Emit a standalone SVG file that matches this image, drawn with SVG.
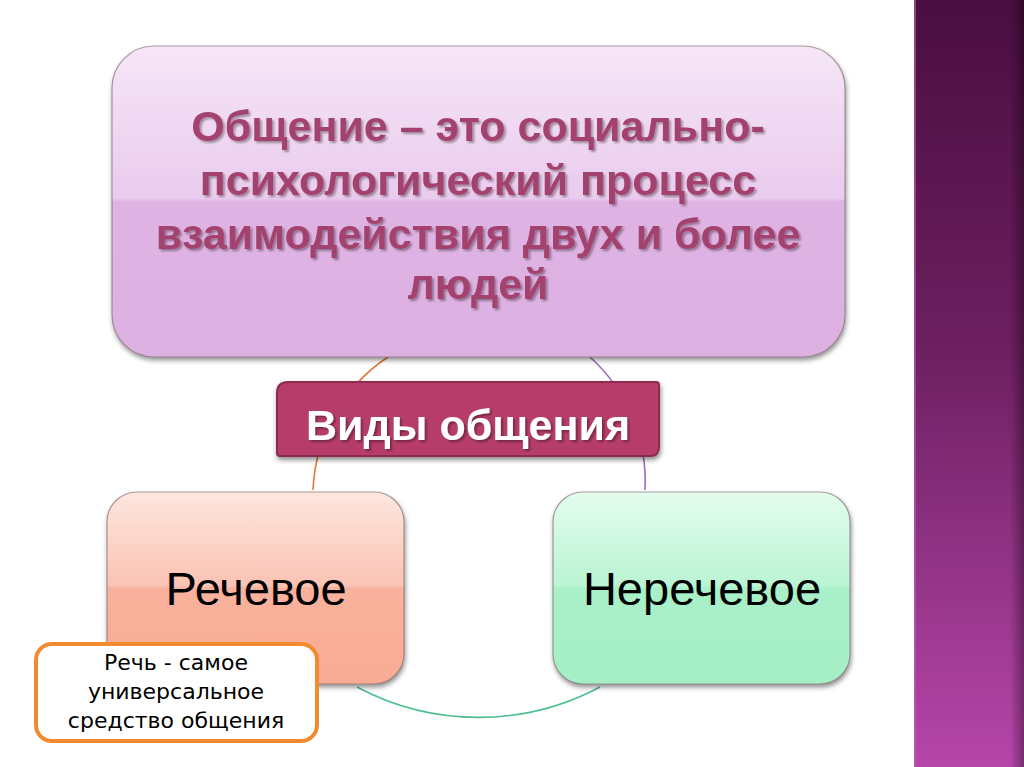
<svg xmlns="http://www.w3.org/2000/svg" width="1024" height="767" viewBox="0 0 1024 767">
<defs>
<linearGradient id="gSide" x1="0" y1="0" x2="0" y2="1">
<stop offset="0" stop-color="#4a0e40"/>
<stop offset="0.45" stop-color="#6c1f60"/>
<stop offset="1" stop-color="#b646a9"/>
</linearGradient>
<linearGradient id="gSideEdge" x1="0" y1="0" x2="1" y2="0">
<stop offset="0" stop-color="#000" stop-opacity="0"/>
<stop offset="1" stop-color="#000" stop-opacity="0.35"/>
</linearGradient>
<linearGradient id="gTop" x1="0" y1="0" x2="0" y2="1">
<stop offset="0" stop-color="#f6e6f7"/>
<stop offset="0.49" stop-color="#eacbee"/>
<stop offset="0.5" stop-color="#dfb3e3"/>
<stop offset="1" stop-color="#dcb0e1"/>
</linearGradient>
<linearGradient id="gLeft" x1="0" y1="0" x2="0" y2="1">
<stop offset="0" stop-color="#fde6df"/>
<stop offset="0.49" stop-color="#fbc3b3"/>
<stop offset="0.5" stop-color="#f9b29d"/>
<stop offset="1" stop-color="#f8ab94"/>
</linearGradient>
<linearGradient id="gRight" x1="0" y1="0" x2="0" y2="1">
<stop offset="0" stop-color="#e3fcee"/>
<stop offset="0.49" stop-color="#baf4d4"/>
<stop offset="0.5" stop-color="#a9f0c8"/>
<stop offset="1" stop-color="#a6efc6"/>
</linearGradient>
<filter id="shadow" x="-10%" y="-10%" width="120%" height="125%">
<feGaussianBlur in="SourceAlpha" stdDeviation="2.5"/>
<feOffset dx="1" dy="3" result="b"/>
<feComponentTransfer><feFuncA type="linear" slope="0.45"/></feComponentTransfer>
<feMerge><feMergeNode/><feMergeNode in="SourceGraphic"/></feMerge>
</filter>
<filter id="tshadow" x="-5%" y="-10%" width="110%" height="130%">
<feGaussianBlur in="SourceAlpha" stdDeviation="1"/>
<feOffset dx="1.5" dy="2"/>
<feComponentTransfer><feFuncA type="linear" slope="0.35"/></feComponentTransfer>
<feMerge><feMergeNode/><feMergeNode in="SourceGraphic"/></feMerge>
</filter>
</defs>
<style>
.box{stroke:#6b5a5a;stroke-opacity:0.55;stroke-width:1.2;filter:url(#shadow)}
.big{font-family:"Liberation Sans",Arial,sans-serif;font-weight:bold;font-size:43px;fill:#a3436e;text-anchor:middle;filter:url(#tshadow)}
.node{font-family:"Liberation Sans",Arial,sans-serif;font-size:47px;fill:#000;text-anchor:middle}
.small{font-family:"DejaVu Sans",Verdana,sans-serif;font-size:22px;fill:#000;text-anchor:middle}
.arc{fill:none;stroke-width:1.6}
</style>
<rect width="1024" height="767" fill="#ffffff"/>
<g id="side-panel">
<rect x="914" y="0" width="110" height="767" fill="url(#gSide)"/>
<rect x="1010" y="0" width="14" height="767" fill="url(#gSideEdge)"/>
<rect x="914" y="0" width="2" height="767" fill="#c060b0" opacity="0.6"/>
</g>
<g id="connectors">
<path class="arc" stroke="#e0793a" d="M 388 357 A 168 168 0 0 0 313 490"/>
<path class="arc" stroke="#9a6cc6" d="M 590 357 A 168 168 0 0 1 645 490"/>
<path class="arc" stroke="#4cbf8e" d="M 357 687 A 258 258 0 0 0 600 687"/>
</g>
<g id="node-definition">
<rect class="box" x="112" y="46" width="733" height="311" rx="42" fill="url(#gTop)"/>
<text class="big" x="478" y="141">Общение – это социально-</text>
<text class="big" x="478" y="195">психологический процесс</text>
<text class="big" x="478" y="249">взаимодействия двух и более</text>
<text class="big" x="478" y="299">людей</text>
</g>
<g id="node-speech">
<rect class="box" x="107" y="492" width="297" height="192" rx="30" fill="url(#gLeft)"/>
<text class="node" x="256" y="605">Речевое</text>
</g>
<g id="node-nonspeech">
<rect class="box" x="553" y="492" width="297" height="192" rx="30" fill="url(#gRight)"/>
<text class="node" x="702" y="605">Неречевое</text>
</g>
<g id="node-types">
<path d="M 288 382 L 656 382 Q 659 382 659 385 L 659 447 Q 659 456 650 456 L 280 456 Q 277 456 277 453 L 277 393 Q 277 382 288 382 Z" fill="#b63c69" stroke="#8c2a50" stroke-width="2" filter="url(#shadow)"/>
<text x="468" y="440" font-family="'Liberation Sans',Arial,sans-serif" font-weight="bold" font-size="43" fill="#ffffff" text-anchor="middle" filter="url(#tshadow)">Виды общения</text>
</g>
<g id="node-note">
<rect x="36" y="644" width="281" height="97" rx="16" fill="#ffffff" stroke="#f28b30" stroke-width="4"/>
<text class="small" x="176" y="670">Речь - самое</text>
<text class="small" x="176" y="699">универсальное</text>
<text class="small" x="176" y="728">средство общения</text>
</g>
</svg>
